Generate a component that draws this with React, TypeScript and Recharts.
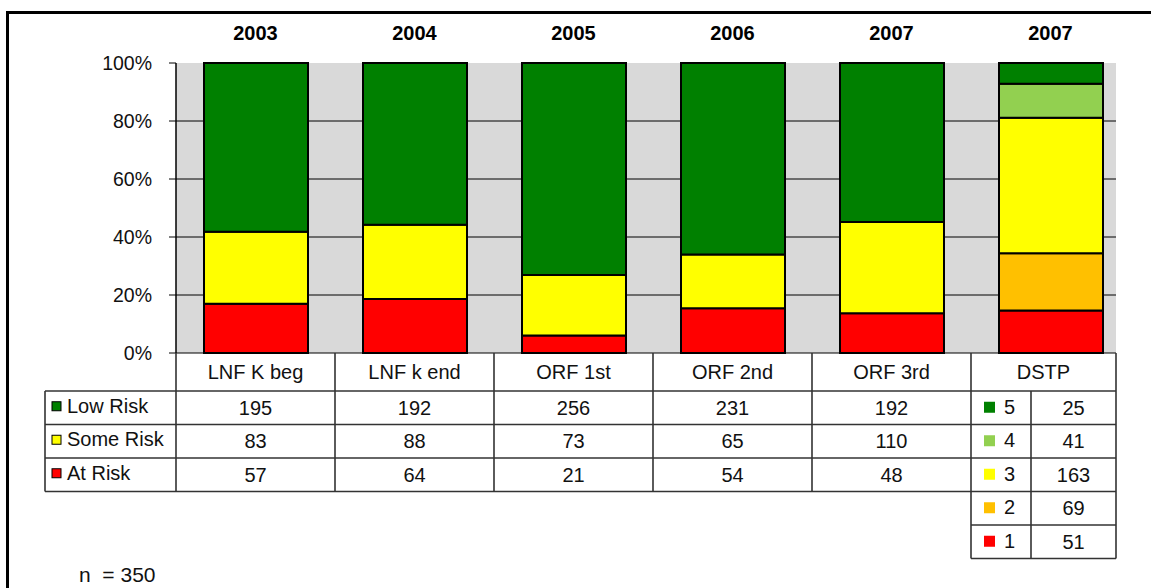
import { BarChart, Bar, XAxis, YAxis, CartesianGrid } from "recharts";

const categories = ["LNF K beg", "LNF k end", "ORF 1st", "ORF 2nd", "ORF 3rd", "DSTP"];
const years = ["2003", "2004", "2005", "2006", "2007", "2007"];
const lowRisk = [195, 192, 256, 231, 192];
const someRisk = [83, 88, 73, 65, 110];
const atRisk = [57, 64, 21, 54, 48];
const dstpLevels = ["5", "4", "3", "2", "1"];
const dstpCounts = [25, 41, 163, 69, 51];
const yTicks = [0, 0.2, 0.4, 0.6, 0.8, 1];

const FONT = "'Liberation Sans', Arial, sans-serif";
const W = 1151;
const H = 588;
const PLOT_L = 176;
const PLOT_R = 1116;
const BAND_R = 1130; // category bands run a little past the grey area
const PLOT_T = 63;
const PLOT_B = 353;
const BAND = (BAND_R - PLOT_L) / categories.length;
const HEAD_H = 38;
const ROW_H = 33.5;
const LEG_L = 45;
const LINE = "#333";
const TXT = "#111";

const riskColors = { low: "#008000", some: "#FFFF00", at: "#FF0000" };
const dstpColors = ["#008000", "#92D050", "#FFFF00", "#FFC000", "#FF0000"];

const riskRows = [
  { label: "Low Risk", color: riskColors.low, values: lowRisk },
  { label: "Some Risk", color: riskColors.some, values: someRisk },
  { label: "At Risk", color: riskColors.at, values: atRisk },
];

const dstpIndex = categories.length - 1;
const data = categories.map((name, i) => {
  const row: Record<string, any> = {
    name,
    atRisk: atRisk[i] ?? 0,
    someRisk: someRisk[i] ?? 0,
    lowRisk: lowRisk[i] ?? 0,
  };
  dstpLevels.forEach((lvl, j) => {
    row["d" + lvl] = i === dstpIndex ? dstpCounts[j] : 0;
  });
  return row;
});

// bottom-to-top stacking order
const stackSeries = [
  { key: "atRisk", color: riskColors.at },
  { key: "someRisk", color: riskColors.some },
  { key: "lowRisk", color: riskColors.low },
  ...dstpLevels
    .map((lvl, j) => ({ key: "d" + lvl, color: dstpColors[j] }))
    .reverse(),
];

function Table() {
  const rowsTop = PLOT_B + HEAD_H;
  const rowY = (r: number) => rowsTop + r * ROW_H;
  const colX = (c: number) => Math.min(PLOT_L + c * BAND, PLOT_R);
  const colMid = (c: number) => (colX(c) + colX(c + 1)) / 2;
  const dstpL = colX(dstpIndex);
  const dstpMid = 1031;
  const lines: JSX.Element[] = [];
  const ln = (x1: number, y1: number, x2: number, y2: number) =>
    lines.push(
      <line key={lines.length} x1={x1} y1={y1} x2={x2} y2={y2} stroke={LINE} strokeWidth={1.6} />
    );

  for (let c = 0; c <= categories.length; c++) ln(colX(c), PLOT_B, colX(c), c >= dstpIndex ? rowY(5) : rowY(3));
  ln(LEG_L, rowsTop, PLOT_R, rowsTop);
  for (let r = 1; r <= 3; r++) ln(LEG_L, rowY(r), PLOT_R, rowY(r));
  for (let r = 4; r <= 5; r++) ln(dstpL, rowY(r), PLOT_R, rowY(r));
  ln(LEG_L, rowsTop, LEG_L, rowY(3));
  ln(dstpMid, rowsTop, dstpMid, rowY(5));

  const fs = 20;
  return (
    <svg width={W} height={H} style={{ position: "absolute", left: 0, top: 0, pointerEvents: "none" }}>
      {lines}
      {categories.map((c, i) => (
        <text key={c} x={colMid(i)} y={PLOT_B + HEAD_H / 2 + 7} textAnchor="middle" fontSize={fs} fontFamily={FONT} fill={TXT}>
          {c}
        </text>
      ))}
      {riskRows.map((row, r) => (
        <g key={row.label}>
          <rect x={LEG_L + 7} y={rowY(r) + ROW_H / 2 - 6} width={9} height={9} fill={row.color} stroke="#000" strokeWidth={1} />
          <text x={LEG_L + 22} y={rowY(r) + ROW_H / 2 + 5} fontSize={fs} fontFamily={FONT} fill={TXT}>
            {row.label}
          </text>
          {row.values.map((v, i) => (
            <text key={i} x={colMid(i)} y={rowY(r) + ROW_H / 2 + 7} textAnchor="middle" fontSize={fs} fontFamily={FONT} fill={TXT}>
              {v}
            </text>
          ))}
        </g>
      ))}
      {dstpLevels.map((lvl, j) => (
        <g key={lvl}>
          <rect x={dstpL + 13} y={rowY(j) + ROW_H / 2 - 6} width={11} height={11} fill={dstpColors[j]} />
          <text x={dstpL + 33} y={rowY(j) + ROW_H / 2 + 6} fontSize={fs} fontFamily={FONT} fill={TXT}>
            {lvl}
          </text>
          <text x={(dstpMid + PLOT_R) / 2} y={rowY(j) + ROW_H / 2 + 7} textAnchor="middle" fontSize={fs} fontFamily={FONT} fill={TXT}>
            {dstpCounts[j]}
          </text>
        </g>
      ))}
      <text x={79} y={582} fontSize={21} fontFamily={FONT} fill={TXT}>
        {"n\u00a0\u00a0= 350"}
      </text>
    </svg>
  );
}

export default function App() {
  const pad = { left: 0, right: PLOT_R - BAND_R };
  return (
    <div style={{ position: "absolute", left: 0, top: 0, width: W, height: H, background: "#fff", overflow: "hidden" }}>
      <div style={{ position: "absolute", left: 6, top: 11, right: -10, bottom: -10, borderTop: "3px solid #000", borderLeft: "3px solid #000" }} />
      <BarChart
        width={W}
        height={H}
        data={data}
        stackOffset="expand"
        margin={{ top: PLOT_T - 30, right: W - PLOT_R, bottom: H - PLOT_B, left: PLOT_L - 120 }}
        style={{ position: "absolute", left: 0, top: 0 }}
      >
        <CartesianGrid
          vertical={false}
          horizontalValues={[0, 0.2, 0.4, 0.6, 0.8]}
          stroke="#000"
          strokeWidth={1}
          fill="#D9D9D9"
          fillOpacity={1}
        />
        <XAxis dataKey="name" hide padding={pad} />
        <XAxis
          xAxisId="top"
          dataKey="name"
          orientation="top"
          height={30}
          padding={pad}
          axisLine={false}
          tickLine={false}
          tickSize={0}
          tickMargin={23}
          interval={0}
          tickFormatter={(_v: string, i: number) => years[i]}
          tick={{ fontSize: 20, fontWeight: "bold", fontFamily: FONT, fill: "#000" }}
        />
        <YAxis
          width={120}
          domain={[0, 1]}
          ticks={yTicks}
          interval={0}
          tickFormatter={(v: number) => `${Math.round(v * 100)}%`}
          axisLine={{ stroke: "#000", strokeWidth: 1.5 }}
          tickLine={{ stroke: "#000" }}
          tickSize={7}
          tickMargin={17}
          tick={{ fontSize: 19.5, fontFamily: FONT, fill: TXT }}
        />
        {stackSeries.map((s) => (
          <Bar key={s.key} dataKey={s.key} stackId="a" fill={s.color} stroke="#000" strokeWidth={2} barSize={104} isAnimationActive={false} />
        ))}
      </BarChart>
      <Table />
    </div>
  );
}
